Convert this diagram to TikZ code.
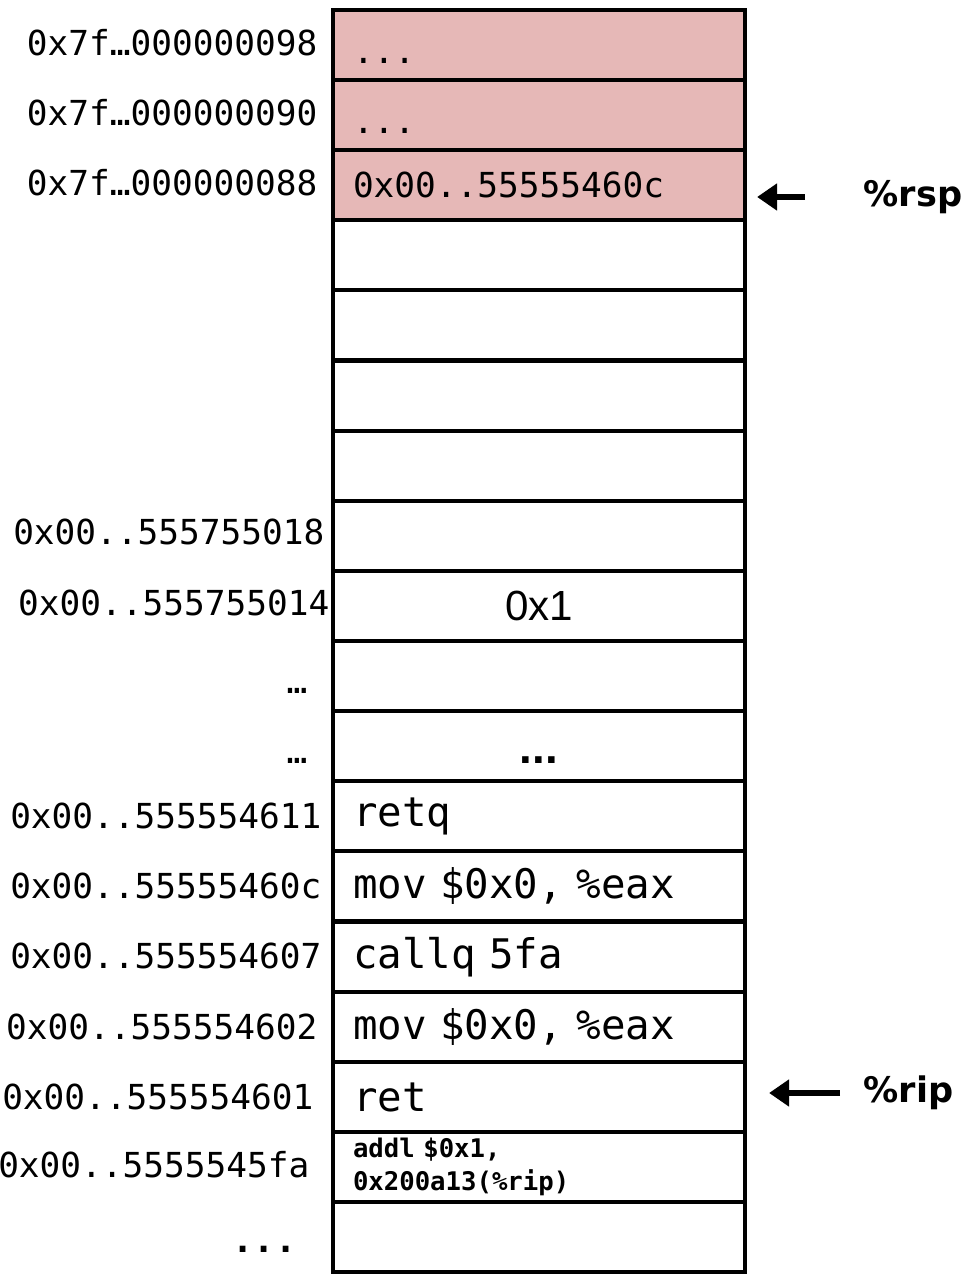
\documentclass[tikz,border=0pt]{standalone}
\usepackage{fontspec}
\setmainfont{Liberation Sans}
\setsansfont{Liberation Sans}
\setmonofont{DejaVu Sans Mono}
\newfontfamily\regfont{DejaVu Sans}
\usetikzlibrary{arrows.meta}
\definecolor{stackpink}{HTML}{E6B8B7}
\tikzset{
  cell/.style={draw, line width=1.2pt, minimum width=4.12cm, minimum height=0.701cm,
    inner xsep=0.2cm, inner ysep=0pt, text width=3.72cm, align=left,
    font=\ttfamily\fontsize{11.6}{13}\selectfont},
  pinkcell/.style={cell, fill=stackpink, font=\ttfamily\fontsize{9.8}{12}\selectfont},
  addr/.style={anchor=east, inner sep=0pt, font=\ttfamily\fontsize{9.8}{12}\selectfont},
  reg/.style={inner sep=0pt, font=\regfont\bfseries\fontsize{10}{12}\selectfont},
  ptr/.style={-{Triangle[length=0.2cm,width=0.26cm]}, line width=1.9pt}
}
\begin{document}
\begin{tikzpicture}
\useasboundingbox (0,0) rectangle (9.69,12.75);
% stack cells
\node[pinkcell] (r1) at (5.39,12.30) {\strut\raisebox{-0.1cm}{...}};
\node[pinkcell] (r2) at (5.39,11.60) {\strut\raisebox{-0.1cm}{...}};
\node[pinkcell] (r3) at (5.39,10.90) {0x00..55555460c};
\node[cell] (r4) at (5.39,10.20) {};
\node[cell] (r5) at (5.39,9.50) {};
\node[cell] (r6) at (5.39,8.79) {};
\node[cell] (r7) at (5.39,8.09) {};
\node[cell] (r8) at (5.39,7.39) {};
\node[cell, align=center, font=\sffamily\fontsize{12}{14}\selectfont] (r9) at (5.39,6.69) {0x1};
\node[cell] (r10) at (5.39,5.99) {};
\node[cell, align=center, font=\sffamily\bfseries\fontsize{13}{14}\selectfont] (r11) at (5.39,5.29) {\strut\raisebox{-0.08cm}{...}};
\node[cell] (r12) at (5.39,4.59) {retq};
\node[cell] (r13) at (5.39,3.89) {mov \$0x0, \%eax};
\node[cell] (r14) at (5.39,3.18) {callq 5fa};
\node[cell] (r15) at (5.39,2.48) {mov \$0x0, \%eax};
\node[cell] (r16) at (5.39,1.78) {ret};
\node[cell, font=\ttfamily\bfseries\fontsize{7.3}{9.6}\selectfont] (r17) at (5.39,1.08) {addl \$0x1,\\0x200a13(\%rip)};
\node[cell] (r18) at (5.39,0.38) {};

% addresses
\node[addr] (a1) at (3.18,12.32) {0x7f…000000098};
\node[addr] (a2) at (3.18,11.62) {0x7f…000000090};
\node[addr] (a3) at (3.18,10.92) {0x7f…000000088};
\node[addr] (a8) at (3.25,7.43) {0x00..555755018};
\node[addr] (a9) at (3.30,6.72) {0x00..555755014};
\node[addr] (a10) at (3.08,5.84) {…};
\node[addr] (a11) at (3.08,5.14) {…};
\node[addr] (a12) at (3.22,4.59) {0x00..555554611};
\node[addr] (a13) at (3.22,3.89) {0x00..55555460c};
\node[addr] (a14) at (3.22,3.19) {0x00..555554607};
\node[addr] (a15) at (3.18,2.48) {0x00..555554602};
\node[addr] (a16) at (3.14,1.78) {0x00..555554601};
\node[addr] (a17) at (3.10,1.10) {0x00..5555545fa};
\node[addr, font=\ttfamily\bfseries\fontsize{10}{12}\selectfont] (a18) at (2.97,0.26) {...};

% registers
\node[reg, anchor=west] (rsp) at (8.63,10.78) {\%rsp};
\node[reg, anchor=west] (rip) at (8.63,1.82) {\%rip};
\coordinate (rsptail) at (8.05,10.78);
\coordinate (riptail) at (8.40,1.82);
\draw[ptr, shorten >=0.1cm] (rsptail) -- (r3.east |- rsptail);
\draw[ptr, shorten >=0.22cm] (riptail) -- (r16.east |- riptail);
\end{tikzpicture}
\end{document}
